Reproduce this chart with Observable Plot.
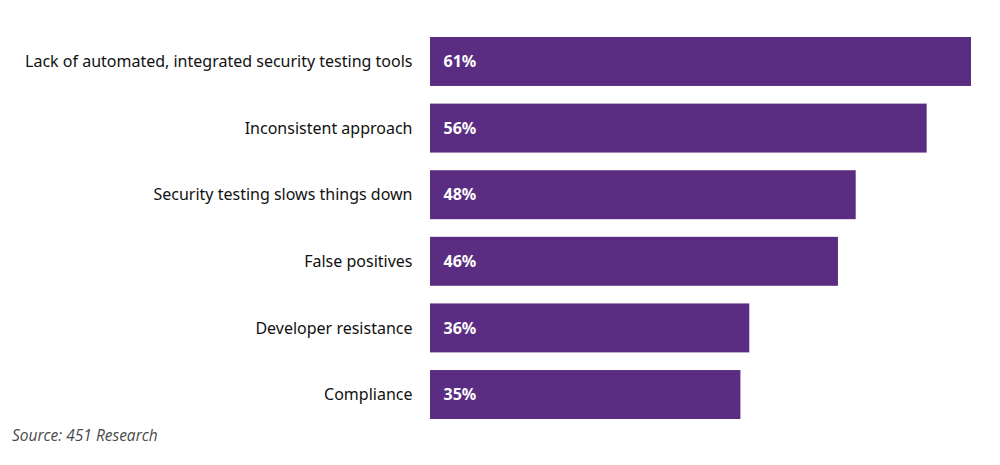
<!DOCTYPE html>
<html>
<head>
<meta charset="utf-8">
<script src="https://cdn.jsdelivr.net/npm/d3@7"></script>
<script src="https://cdn.jsdelivr.net/npm/@observablehq/plot@0.6"></script>
<style>
  body { margin: 0; background: #fff; }
  #chart svg { display: block; }
  .source { font-family: "Open Sans", "Liberation Sans", sans-serif; font-style: italic; font-size: 15.5px; color: #4a4a4a; margin: 0 0 0 12px; line-height: 20px; }
</style>
</head>
<body>
<div id="chart"></div>
<div class="source">Source: 451 Research</div>
<script>
const categories = [
  "Lack of automated, integrated security testing tools",
  "Inconsistent approach",
  "Security testing slows things down",
  "False positives",
  "Developer resistance",
  "Compliance"
];
const values = [61, 56, 48, 46, 36, 35];
const valueLabels = ["61%", "56%", "48%", "46%", "36%", "35%"];

const data = categories.map((c, i) => ({category: c, value: values[i], label: valueLabels[i]}));

const chart = Plot.plot({
  width: 1000,
  height: 425,
  marginLeft: 430,
  marginRight: 29,
  marginTop: 37,
  marginBottom: 6,
  style: {fontFamily: "'Noto Sans', sans-serif", fontSize: "16px", color: "#111"},
  x: {domain: [0, 61], axis: null},
  y: {domain: categories, paddingInner: 0.265, paddingOuter: 0, round: false, label: null, tickSize: 0, tickPadding: 18},
  marks: [
    Plot.barX(data, {x: "value", y: "category", fill: "#5b2d82"}),
    Plot.text(data, {x: 0, y: "category", text: "label", textAnchor: "start", dx: 13, fill: "white", fontWeight: "bold", fontSize: 16}),
    Plot.axisY({tickSize: 0, tickPadding: 18, label: null, fontSize: 16})
  ]
});
document.getElementById("chart").appendChild(chart);
</script>
</body>
</html>
